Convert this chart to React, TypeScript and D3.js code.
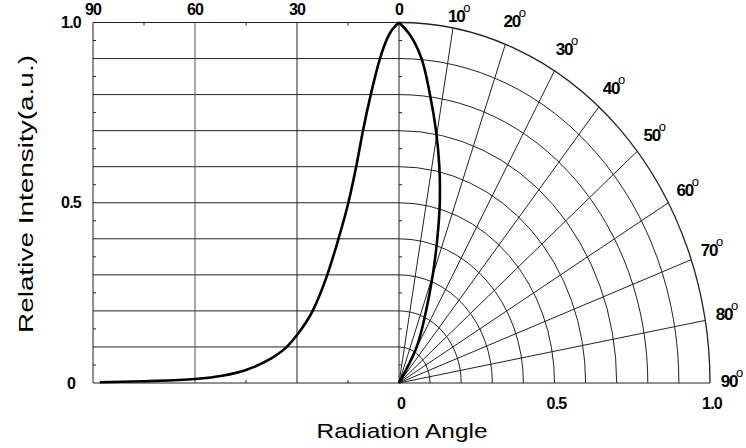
import * as d3 from "d3";

// left panel: intensity vs angle (deg)
const leftAngles = [0, 3, 5.6, 8.3, 10.6, 12.6, 14.9, 17.8, 21.1, 25.4, 30, 33, 38, 45, 52, 60, 75, 88];
const leftIntensity = [1.0, 0.965, 0.9, 0.8, 0.7, 0.6, 0.5, 0.4, 0.3, 0.2, 0.133, 0.1, 0.066, 0.036, 0.02, 0.011, 0.005, 0.002];

// right panel: polar pattern
const polarAngles = [0, 2.1, 4.6, 7.1, 9.65, 12.2, 14.7, 17.1, 19.9, 23.5, 29.6, 40];
const polarIntensity = [1.0, 0.966, 0.903, 0.806, 0.71, 0.614, 0.517, 0.419, 0.319, 0.218, 0.115, 0];

const topTicks = [90, 60, 30, 0];
const leftTickLabels = ["0", "0.5", "1.0"];
const leftTickValues = [0, 0.5, 1.0];
const bottomTickLabels = ["0", "0.5", "1.0"];
const bottomTickValues = [0, 0.5, 1.0];
const polarLabelAngles = [10, 20, 30, 40, 50, 60, 70, 80, 90];
const gridSteps = d3.range(1, 11).map((d) => d / 10);

const W = 746;
const H = 448;

export default function App() {
  const cx = 399;
  const cy = 383;
  const x = d3.scaleLinear().domain([90, 0]).range([93, cx]);
  const y = d3.scaleLinear().domain([0, 1]).range([cy, 22.5]);
  const rx = d3.scaleLinear().domain([0, 1]).range([0, 311]);
  const ry = d3.scaleLinear().domain([0, 1]).range([0, cy - 22.5]);
  const rad = (deg: number) => (deg * Math.PI) / 180;
  const px = (a: number, r: number) => cx + rx(r) * Math.sin(rad(a));
  const py = (a: number, r: number) => cy - ry(r) * Math.cos(rad(a));

  // sorted so x increases (angle decreasing)
  const leftData = leftAngles.map((a, i) => ({ a, v: leftIntensity[i] })).reverse();
  const polarData = polarAngles.map((a, i) => ({ a, v: polarIntensity[i] }));

  const leftLine = d3
    .line<{ a: number; v: number }>()
    .x((d) => x(d.a))
    .y((d) => y(d.v))
    .curve(d3.curveMonotoneX);

  const polarLine = d3
    .line<{ a: number; v: number }>()
    .x((d) => px(d.a, d.v))
    .y((d) => py(d.a, d.v))
    .curve(d3.curveCatmullRom.alpha(0.5));

  const arcPath = (r: number) =>
    `M${cx},${cy - ry(r)} A${rx(r)},${ry(r)} 0 0 1 ${cx + rx(r)},${cy}`;

  const minorY = d3.range(0.05, 1, 0.1);
  const minorX = [15, 45, 75];
  const font = "Liberation Sans, Arial, sans-serif";
  const lbl = { fontFamily: font, fontWeight: 700, fontSize: 16, letterSpacing: -0.8 };

  return (
    <svg width={W} height={H} style={{ position: "absolute", left: 0, top: 0, background: "#fff" }}>
      <g stroke="#222" strokeWidth={1} fill="none">
        {gridSteps.map((v) => (
          <line key={"h" + v} x1={x(90)} x2={cx} y1={y(v)} y2={y(v)} />
        ))}
        {topTicks.map((a) => (
          <line key={"v" + a} x1={x(a)} x2={x(a)} y1={y(0)} y2={y(1)} stroke={a === 60 ? "#555" : "#222"} />
        ))}
        <line x1={x(90)} x2={cx} y1={y(0)} y2={y(0)} />
        {minorY.map((v) => (
          <g key={"my" + v}>
            <line x1={x(90)} x2={x(90) + 3} y1={y(v)} y2={y(v)} />
            <line x1={cx} x2={cx + 3} y1={y(v)} y2={y(v)} />
          </g>
        ))}
        {minorX.map((a) => (
          <g key={"mx" + a}>
            <line x1={x(a)} x2={x(a)} y1={y(1)} y2={y(1) + 3} />
            <line x1={x(a)} x2={x(a)} y1={y(0)} y2={y(0) - 3} />
          </g>
        ))}
        {gridSteps.map((r) => (
          <path key={"arc" + r} d={arcPath(r)} strokeWidth={r === 1 ? 1.3 : 1} />
        ))}
        {d3.range(10, 100, 10).map((a) => (
          <line key={"r" + a} x1={cx} y1={cy} x2={px(a, 1)} y2={py(a, 1)} />
        ))}
      </g>

      <path d={leftLine(leftData) ?? ""} fill="none" stroke="#000" strokeWidth={2.6} />
      <path d={polarLine(polarData) ?? ""} fill="none" stroke="#000" strokeWidth={2.6} />

      {topTicks.map((a) => (
        <text key={"t" + a} x={x(a)} y={15} textAnchor="middle" style={lbl}>
          {a}
        </text>
      ))}
      {leftTickValues.map((v, i) => (
        <text key={"l" + v} x={71} y={y(v) + 5.5} textAnchor="middle" style={lbl}>
          {leftTickLabels[i]}
        </text>
      ))}
      {bottomTickValues.map((v, i) => (
        <text key={"b" + v} x={cx + rx(v) + 2} y={409} textAnchor="middle" style={lbl}>
          {bottomTickLabels[i]}
        </text>
      ))}
      {polarLabelAngles.map((a) => {
        const lx = cx + 330 * Math.sin(rad(a));
        const ly = Math.max(22, 387 - 383 * Math.cos(rad(a)));
        return (
          <g key={"p" + a}>
            <text x={lx} y={ly} textAnchor="middle" style={{ ...lbl, fontSize: 17, letterSpacing: -1.2 }}>
              {a}
            </text>
            <text x={lx + 7} y={ly - 10} style={{ fontFamily: font, fontSize: 13, fontWeight: 400 }}>
              o
            </text>
          </g>
        );
      })}

      <text
        x={402}
        y={438}
        textAnchor="middle"
        textLength={171}
        lengthAdjust="spacingAndGlyphs"
        style={{ fontFamily: font, fontSize: 21 }}
      >
        Radiation Angle
      </text>
      <text
        transform="translate(33,194) rotate(-90)"
        textAnchor="middle"
        textLength={278}
        lengthAdjust="spacingAndGlyphs"
        style={{ fontFamily: font, fontSize: 21 }}
      >
        Relative Intensity(a.u.)
      </text>
    </svg>
  );
}
